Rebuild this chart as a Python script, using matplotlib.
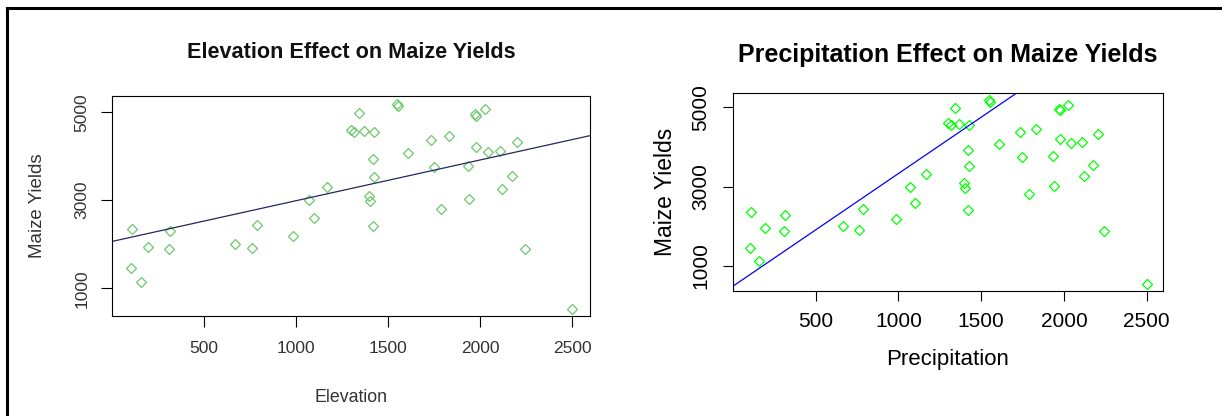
import numpy as np
from matplotlib import pyplot as plt
from matplotlib.lines import Line2D

plt.rcParams['font.family'] = ['Liberation Sans', 'DejaVu Sans']

# same points are used in both panels, only the label and fitted line change
Xvals = [109, 104, 156, 195, 313, 311, 666, 762, 788, 986,
         1070, 1100, 1167, 1300, 1317, 1343, 1367, 1425, 1399, 1403,
         1420, 1425, 1418, 1549, 1554, 1607, 1736, 1829, 1749, 1786,
         1934, 1941, 1973, 1979, 1979, 2027, 2044, 2108, 2121, 2173,
         2203, 2242, 2500]
Yields = [2350, 1464, 1135, 1945, 2291, 1886, 2004, 1911, 2435, 2190,
          3000, 2586, 3312, 4595, 4553, 4992, 4578, 4544, 3093, 2975,
          3937, 3532, 2418, 5177, 5143, 4072, 4367, 4460, 3751, 2806,
          3776, 3017, 4966, 4924, 4207, 5068, 4097, 4122, 3262, 3557,
          4325, 1886, 536]

ElevFit = (2063, 0.926)     # intercept, slope
PrecFit = (485, 2.844)

XTicks = [500, 1000, 1500, 2000, 2500]
YTicks = [1000, 3000, 5000]

W, H = 1222, 416


def fx(px):
    return px / W


def fy(py):
    return 1 - py / H


def make_panel(fig, box, fit, style):
    x0, y0, x1, y1 = box
    ax = fig.add_axes([fx(x0), fy(y1), fx(x1 - x0), (y1 - y0) / H])
    ax.plot(Xvals, Yields, linestyle='none', marker='D', markersize=style['ms'],
            markerfacecolor='none', markeredgecolor=style['pt'], markeredgewidth=0.9)
    ax.axline((0, fit[0]), slope=fit[1], color=style['line'], linewidth=0.9)
    ax.set_xlim(0, 2598)
    ax.set_ylim(368, 5370)
    ax.set_xticks(XTicks)
    ax.set_yticks(YTicks)
    ax.set_xticklabels([str(t) for t in XTicks])
    ax.set_yticklabels([str(t) for t in YTicks], rotation=90, va='center')
    ax.tick_params(direction='out', length=style['tl'], width=0.8, colors='black',
                   labelsize=style['fs'], labelcolor=style['txt'])
    ax.tick_params(axis='x', pad=style['xpad'])
    ax.tick_params(axis='y', pad=style['ypad'])
    for s in ax.spines.values():
        s.set_linewidth(0.8)
        s.set_color('black')
    return ax


fig = plt.figure(figsize=(W / 100, H / 100), dpi=100)

left_style = dict(ms=5.6, pt='#6cc86c', line='#262660', tl=8, fs=12.5,
                  txt='#333333', xpad=10, ypad=8)
right_style = dict(ms=5.2, pt='#00ff00', line='#0000ff', tl=7, fs=15,
                   txt='black', xpad=8, ypad=9)

make_panel(fig, (112, 96, 590, 316), ElevFit, left_style)
make_panel(fig, (732.7, 92.7, 1163, 291), PrecFit, right_style)

# titles and axis labels
fig.text(fx(351), fy(53), 'Elevation Effect on Maize Yields', ha='center', va='center',
         fontsize=15.6, fontweight='bold', color='#111111')
fig.text(fx(38), fy(206), 'Maize Yields', ha='center', va='center', rotation=90,
         fontsize=13.5, color='#333333')
fig.text(fx(351), fy(398), 'Elevation', ha='center', va='center',
         fontsize=12.8, color='#333333')

fig.text(fx(948), fy(55), 'Precipitation Effect on Maize Yields', ha='center', va='center',
         fontsize=18, fontweight='bold', color='black')
fig.text(fx(665), fy(192), 'Maize Yields', ha='center', va='center', rotation=90,
         fontsize=16.5, color='black')
fig.text(fx(948), fy(359), 'Precipitation', ha='center', va='center',
         fontsize=16, color='black')

# frame of the screenshot
fig.add_artist(Line2D([fx(7.5), fx(7.5)], [fy(7.5), 0], color='black', linewidth=2.2))
fig.add_artist(Line2D([fx(7.5), 1], [fy(7.5), fy(7.5)], color='black', linewidth=2.2))

plt.savefig('out.png', dpi=100)
